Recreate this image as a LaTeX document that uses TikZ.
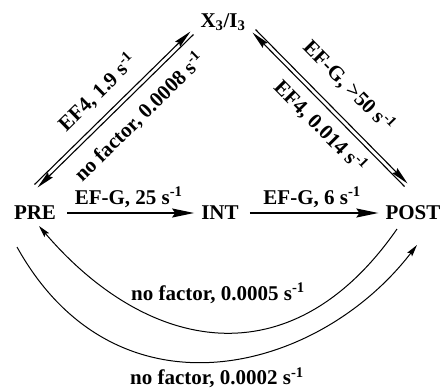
\documentclass[tikz,border=0pt]{standalone}
\usepackage{fontspec}
\setmainfont{Liberation Serif}
\usetikzlibrary{arrows.meta,positioning}

\begin{document}
\begin{tikzpicture}[x=1pt, y=-1pt,
  state/.style={font=\fontsize{21}{25}\selectfont\bfseries, inner sep=2pt},
  lab/.style={font=\fontsize{21}{25}\selectfont\bfseries, inner sep=0pt},
  harr/.style={-{Stealth[length=22pt,width=9pt,inset=3pt]}, line width=1.5pt, shorten <=9pt, shorten >=5pt},
  darr/.style={-{Stealth[length=18pt,width=7pt,inset=2pt]}, line width=1.1pt},
  rarr/.style={{Stealth[length=18pt,width=7pt,inset=2pt]}-, line width=1.1pt},
  carr/.style={-{Stealth[length=12pt,width=6pt,inset=2pt]}, line width=1pt}
]
\useasboundingbox (0,0) rectangle (442,389);
\node[state] (x3) at (223,22) {X\textsubscript{3}/I\textsubscript{3}};
\node[state] (pre) at (35,213) {PRE};
\node[state] (int) at (220,213) {INT};
\node[state] (post) at (413,213) {POST};

% translocation steps
\draw[harr] (pre) -- node[lab, above=5pt] {EF-G, 25 s\textsuperscript{-1}} (int);
\draw[harr] (int) -- node[lab, above=5pt] {EF-G, 6 s\textsuperscript{-1}} (post);

% PRE <-> X3/I3
\draw[darr] ([shift={(-0.5,-28.5)}]pre.center) -- node[lab, sloped, above=11pt] {EF4, 1.9 s\textsuperscript{-1}} ([shift={(-32.5,9.5)}]x3.center);
\draw[rarr] ([shift={(2.5,-25.5)}]pre.center) -- node[lab, sloped, below=10pt, pos=0.56] {no factor, 0.0008 s\textsuperscript{-1}} ([shift={(-29.5,12.5)}]x3.center);

% X3/I3 <-> POST
\draw[darr] ([shift={(32.5,7.5)}]x3.center) -- node[lab, sloped, above=16pt, pos=0.49] {EF-G, >50 s\textsuperscript{-1}} ([shift={(-5.5,-29.5)}]post.center);
\draw[rarr] ([shift={(29.5,10.5)}]x3.center) -- node[lab, sloped, below=7pt, pos=0.53] {EF4, 0.014 s\textsuperscript{-1}} ([shift={(-8.5,-26.5)}]post.center);

% spontaneous steps
\draw[carr] ([shift={(-16,16)}]post.center) .. controls (290,383) and (146,351) .. node[lab, above=28pt] {no factor, 0.0005 s\textsuperscript{-1}} ([shift={(4,13)}]pre.center);
\draw[carr] ([shift={(-18,34)}]pre.center) .. controls (116,425) and (318,374) .. node[lab, below=6pt] {no factor, 0.0002 s\textsuperscript{-1}} ([shift={(4,32)}]post.center);
\end{tikzpicture}
\end{document}
